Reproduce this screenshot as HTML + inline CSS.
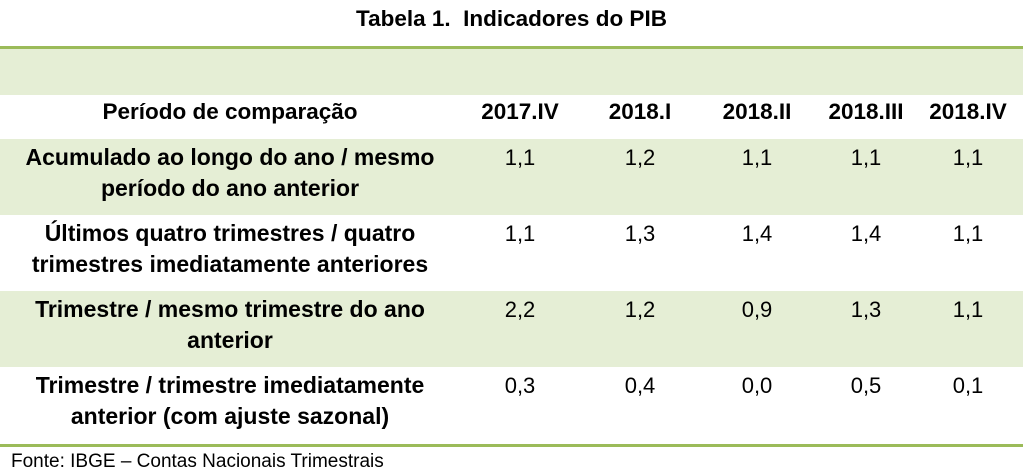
<!DOCTYPE html>
<html><head><meta charset="utf-8"><style>
body{margin:0;width:1023px;height:473px;background:#fff;font-family:"Liberation Sans",sans-serif;color:#000;position:relative;overflow:hidden}
.a{position:absolute}
.t{font-weight:bold;font-size:23px;text-align:center;line-height:31px;white-space:nowrap}
.v{font-size:22px;text-align:center;width:100px;line-height:31px}
.h{font-weight:bold;font-size:22.5px;text-align:center;width:110px;line-height:31px;white-space:nowrap}
</style></head><body>
<div class="a t" style="left:0;width:1023px;top:3px;font-size:22.5px">Tabela 1.&nbsp; Indicadores do PIB</div>
<div class="a" style="left:0;top:46px;width:1023px;height:3px;background:#9bbb59"></div>
<div class="a" style="left:0;top:49px;width:1023px;height:46px;background:#e5eed5"></div>
<div class="a" style="left:0;top:139px;width:1023px;height:76px;background:#e5eed5"></div>
<div class="a" style="left:0;top:291px;width:1023px;height:76px;background:#e5eed5"></div>
<div class="a" style="left:0;top:444px;width:1023px;height:3px;background:#9bbb59"></div>

<div class="a t" style="left:0;width:460px;top:96px;font-size:22.5px">Período de comparação</div>
<div class="a h" style="left:465px;top:96px">2017.IV</div>
<div class="a h" style="left:585px;top:96px">2018.I</div>
<div class="a h" style="left:702px;top:96px">2018.II</div>
<div class="a h" style="left:811px;top:96px">2018.III</div>
<div class="a h" style="left:913px;top:96px">2018.IV</div>

<div class="a t" style="left:0;width:460px;top:142px">Acumulado ao longo do ano / mesmo<br>período do ano anterior</div>
<div class="a t" style="left:0;width:460px;top:218px">Últimos quatro trimestres / quatro<br>trimestres imediatamente anteriores</div>
<div class="a t" style="left:0;width:460px;top:294px">Trimestre / mesmo trimestre do ano<br>anterior</div>
<div class="a t" style="left:0;width:460px;top:370px">Trimestre / trimestre imediatamente<br>anterior (com ajuste sazonal)</div>

<div class="a v" style="left:470px;top:142px">1,1</div><div class="a v" style="left:590px;top:142px">1,2</div><div class="a v" style="left:707px;top:142px">1,1</div><div class="a v" style="left:816px;top:142px">1,1</div><div class="a v" style="left:918px;top:142px">1,1</div>
<div class="a v" style="left:470px;top:218px">1,1</div><div class="a v" style="left:590px;top:218px">1,3</div><div class="a v" style="left:707px;top:218px">1,4</div><div class="a v" style="left:816px;top:218px">1,4</div><div class="a v" style="left:918px;top:218px">1,1</div>
<div class="a v" style="left:470px;top:294px">2,2</div><div class="a v" style="left:590px;top:294px">1,2</div><div class="a v" style="left:707px;top:294px">0,9</div><div class="a v" style="left:816px;top:294px">1,3</div><div class="a v" style="left:918px;top:294px">1,1</div>
<div class="a v" style="left:470px;top:370px">0,3</div><div class="a v" style="left:590px;top:370px">0,4</div><div class="a v" style="left:707px;top:370px">0,0</div><div class="a v" style="left:816px;top:370px">0,5</div><div class="a v" style="left:918px;top:370px">0,1</div>

<div class="a" style="left:11px;top:450px;font-size:19px;line-height:24px;white-space:nowrap">Fonte: IBGE – Contas Nacionais Trimestrais</div>
</body></html>
